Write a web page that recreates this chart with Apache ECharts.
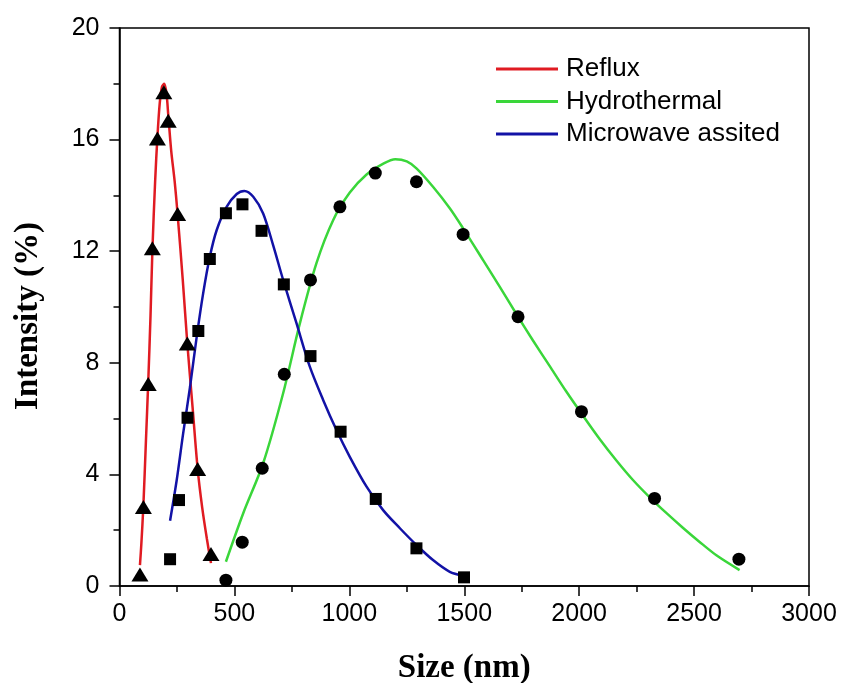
<!DOCTYPE html>
<html>
<head>
<meta charset="utf-8">
<script src="https://cdn.jsdelivr.net/npm/echarts@6/dist/echarts.min.js"></script>
<style>html,body{margin:0;padding:0;background:#fff}#c{width:841px;height:683px}</style>
</head>
<body>
<div id="c"></div>
<script>
// Measured points
var refluxX = [89, 104, 125, 143, 165, 193, 212, 253, 295, 340, 398];
var refluxY = [0.41, 2.83, 7.24, 12.11, 16.04, 17.7, 16.68, 13.33, 8.69, 4.19, 1.15];
var microX = [220, 259, 296, 343, 393, 463, 535, 618, 715, 831, 962, 1115, 1292, 1499];
var microY = [0.96, 3.08, 6.03, 9.14, 11.72, 13.36, 13.68, 12.73, 10.81, 8.24, 5.53, 3.12, 1.35, 0.31];
var hydroX = [463, 534, 621, 717, 831, 959, 1113, 1292, 1495, 1734, 2010, 2328, 2695];
var hydroY = [0.21, 1.57, 4.22, 7.59, 10.97, 13.59, 14.8, 14.49, 12.6, 9.65, 6.25, 3.14, 0.96];

// Fitted curves
var refluxFitX = [89, 95, 104, 115, 125, 135, 143, 155, 165, 175, 185, 195, 205, 212, 225, 240, 253, 275, 295, 318, 340, 360, 380, 398];
var refluxFitY = [0.75, 1.5, 2.9, 5.2, 7.3, 9.7, 12.0, 14.5, 16.1, 17.3, 17.9, 18.0, 17.6, 16.9, 15.6, 14.5, 13.3, 11.0, 8.7, 6.4, 4.2, 2.8, 1.7, 0.82];
var microFitX = [220, 249, 277, 307, 336, 364, 393, 423, 466, 510, 543, 582, 625, 669, 712, 770, 828, 886, 944, 1002, 1075, 1147, 1220, 1292, 1364, 1437, 1495];
var microFitY = [2.34, 3.80, 5.47, 7.14, 8.94, 10.49, 11.80, 12.76, 13.59, 14.05, 14.16, 13.95, 13.35, 12.2, 10.97, 9.42, 7.86, 6.67, 5.59, 4.63, 3.56, 2.72, 2.07, 1.47, 0.93, 0.51, 0.37];
var hydroFitX = [463, 538, 625, 712, 785, 857, 930, 1002, 1075, 1150, 1200, 1250, 1292, 1364, 1437, 1495, 1582, 1654, 1734, 1799, 1872, 1944, 2017, 2089, 2162, 2234, 2307, 2379, 2451, 2524, 2597, 2698];
var hydroFitY = [0.87, 2.6, 4.40, 6.91, 9.42, 11.57, 13.12, 14.1, 14.75, 15.15, 15.3, 15.22, 14.97, 14.31, 13.54, 12.82, 11.68, 10.73, 9.65, 8.80, 7.88, 6.97, 6.10, 5.27, 4.50, 3.80, 3.18, 2.62, 2.09, 1.58, 1.10, 0.57];

var seriesNames = ['Reflux', 'Hydrothermal', 'Microwave assited'];
var xTicks = [0, 500, 1000, 1500, 2000, 2500, 3000];
var yTicks = [0, 4, 8, 12, 16, 20];

function pairs(xs, ys) { return xs.map(function (x, i) { return [x, ys[i]]; }); }

var red = '#e01b22', green = '#3ad63a', blue = '#1212a6';
var sans = 'Liberation Sans, Arial, sans-serif';
var serif = 'Liberation Serif, Times New Roman, serif';
var markStyle = {color: '#000', opacity: 1};

var chart = echarts.init(document.getElementById('c'), null, {renderer: 'canvas'});
chart.setOption({
  animation: false,
  backgroundColor: '#fff',
  grid: {left: 119.5, right: 32, top: 28, bottom: 97, show: true, borderColor: '#000', borderWidth: 1.5, backgroundColor: 'transparent', containLabel: false, outerBoundsMode: 'none'},
  legend: {
    data: seriesNames,
    orient: 'vertical',
    left: 491, top: 51,
    itemWidth: 62, itemHeight: 3, itemGap: 6.5,
    icon: 'rect',
    textStyle: {fontFamily: sans, fontSize: 26, color: '#000', padding: [0, 0, 0, 3]}
  },
  xAxis: {
    type: 'value', min: xTicks[0], max: xTicks[xTicks.length - 1], interval: 500,
    name: 'Size (nm)', nameLocation: 'middle', nameGap: 66,
    nameTextStyle: {fontFamily: serif, fontWeight: 'bold', fontSize: 33, color: '#000'},
    axisLine: {show: true, lineStyle: {color: '#000', width: 1.5}},
    axisTick: {show: true, length: 10, lineStyle: {color: '#000', width: 1.5}},
    minorTick: {show: true, splitNumber: 2, length: 6, lineStyle: {color: '#000', width: 1.5}},
    splitLine: {show: false},
    axisLabel: {fontFamily: sans, fontSize: 25, color: '#000', margin: 16, formatter: function (v) { return String(v); }}
  },
  yAxis: {
    type: 'value', min: yTicks[0], max: yTicks[yTicks.length - 1], interval: 4,
    name: 'Intensity (%)', nameLocation: 'middle', nameGap: 75,
    nameTextStyle: {fontFamily: serif, fontWeight: 'bold', fontSize: 33, color: '#000', padding: [0, 18, 0, 0]},
    axisLine: {show: true, lineStyle: {color: '#000', width: 1.5}},
    axisTick: {show: true, length: 10, lineStyle: {color: '#000', width: 1.5}},
    minorTick: {show: true, splitNumber: 2, length: 6, lineStyle: {color: '#000', width: 1.5}},
    splitLine: {show: false},
    axisLabel: {fontFamily: sans, fontSize: 25, color: '#000', margin: 20}
  },
  series: [
    {name: seriesNames[0], type: 'line', data: pairs(refluxFitX, refluxFitY), smooth: 0.3, symbol: 'none', color: red, lineStyle: {color: red, width: 2.5}, z: 3},
    {name: seriesNames[1], type: 'line', data: pairs(hydroFitX, hydroFitY), smooth: 0.3, symbol: 'none', color: green, lineStyle: {color: green, width: 2.5}, z: 3},
    {name: seriesNames[2], type: 'line', data: pairs(microFitX, microFitY), smooth: 0.3, symbol: 'none', color: blue, lineStyle: {color: blue, width: 2.5}, z: 3},
    {name: 'Reflux data', type: 'scatter', data: pairs(refluxX, refluxY), symbol: 'triangle', symbolSize: [17, 14], itemStyle: markStyle, z: 4},
    {name: 'Microwave data', type: 'scatter', data: pairs(microX, microY), symbol: 'rect', symbolSize: 12, itemStyle: markStyle, z: 4},
    {name: 'Hydrothermal data', type: 'scatter', data: pairs(hydroX, hydroY), symbol: 'circle', symbolSize: 13, itemStyle: markStyle, z: 4}
  ]
});
</script>
</body>
</html>
